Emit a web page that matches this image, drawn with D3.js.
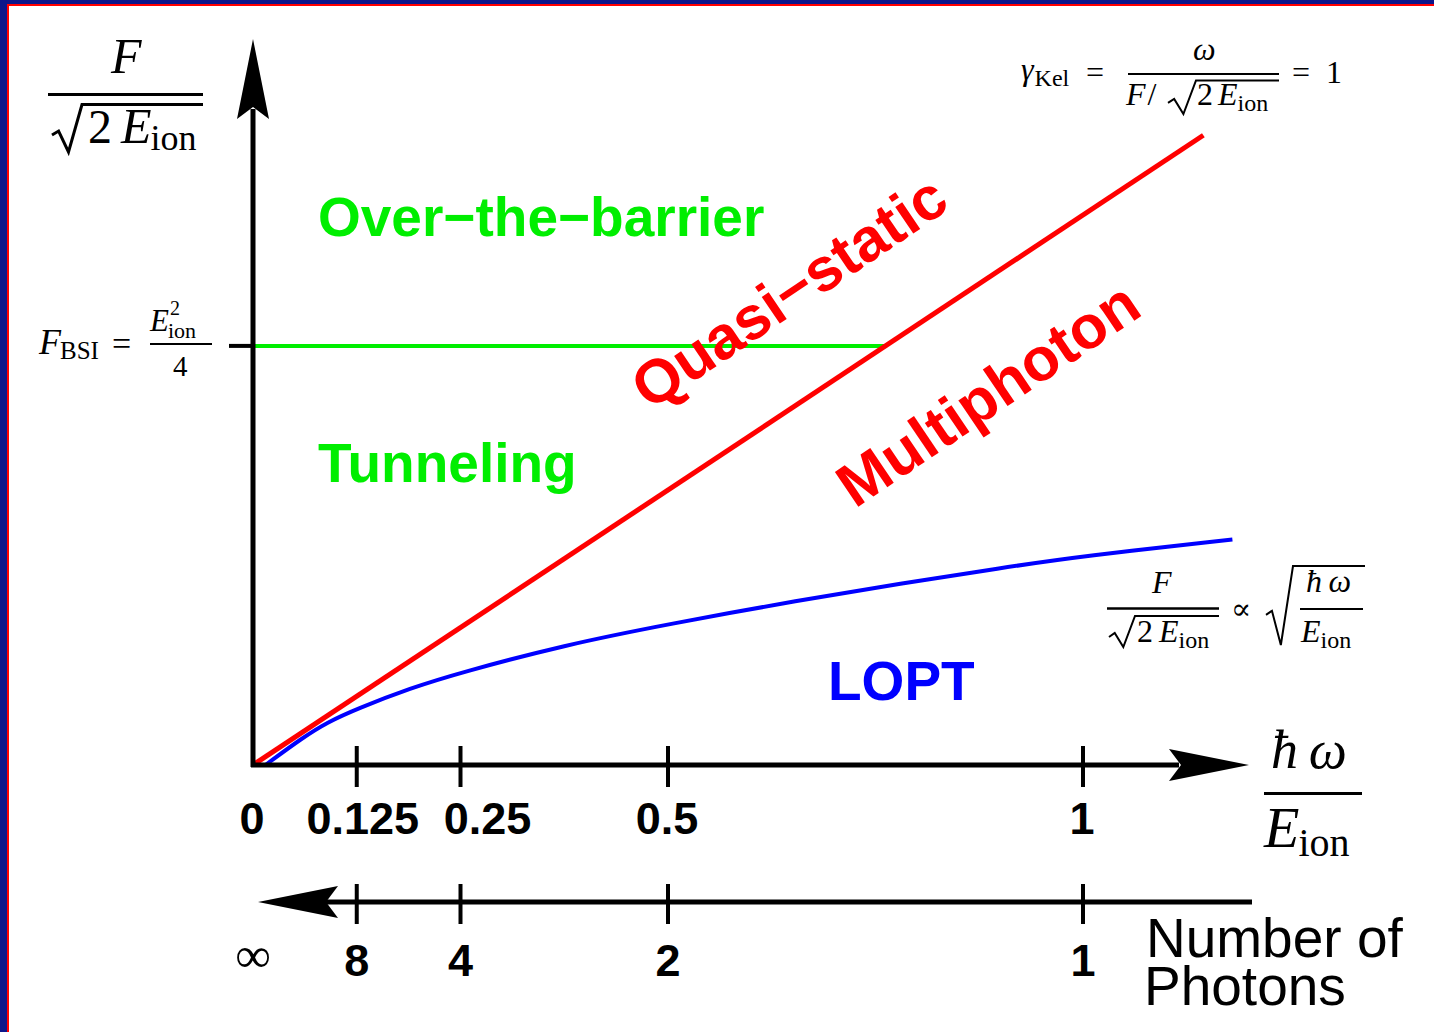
<!DOCTYPE html>
<html>
<head>
<meta charset="utf-8">
<script src="https://cdn.jsdelivr.net/npm/d3@7"></script>
<style>
  body { margin: 0; background: #fff; }
  svg { display: block; }
</style>
</head>
<body>
<svg id="chart" width="1434" height="1032"></svg>
<script>
// ---- data (photon energy in units of E_ion, field in units of sqrt(2 E_ion)) ----
var xTicks = [0.125, 0.25, 0.5, 1];
var xTickLabels = ["0", "0.125", "0.25", "0.5", "1"];
var xLabelValues = [0, 0.125, 0.25, 0.5, 1];
var photonCounts = [8, 4, 2, 1];
var photonLabels = ["8", "4", "2", "1"];
var keldyshX = [0, 1.145];          // gamma_Kel = 1
var keldyshY = [0, 1.145];
var bsiLevel = 0.762;               // F_BSI
var loptX = [0.015, 0.06, 0.09, 0.125, 0.19, 0.25, 0.375, 0.5, 0.66, 0.78, 0.9, 1.0, 1.18];
var loptY = [0, 0.05, 0.078, 0.102, 0.14, 0.168, 0.218, 0.256, 0.3, 0.33, 0.358, 0.38, 0.41];

var svg = d3.select("#chart");
var serif = "'Liberation Serif', 'DejaVu Serif', serif";
var sans = "'Liberation Sans', Arial, sans-serif";

// frame (left + top)
svg.append("rect").attr("x", 0).attr("y", 0).attr("width", 1434).attr("height", 1032).attr("fill", "#fff");
svg.append("rect").attr("x", 0).attr("y", 0).attr("width", 1434).attr("height", 4).attr("fill", "#0c168a");
svg.append("rect").attr("x", 0).attr("y", 4).attr("width", 1434).attr("height", 2).attr("fill", "#ff0000");
svg.append("rect").attr("x", 0).attr("y", 0).attr("width", 7).attr("height", 1032).attr("fill", "#0c168a");
svg.append("rect").attr("x", 7).attr("y", 4).attr("width", 2).attr("height", 1028).attr("fill", "#ff0000");

// scales
var x = d3.scaleLinear().domain([0, 1]).range([253, 1083]);
var y = d3.scaleLinear().domain([0, 1]).range([765, 215]);
var xMax = 1.2, yMax = 1.32;
var photonAxisY = 902;

function arrow(tipX, tipY, dir) {
    // dir: "up", "right", "left"
    var L = 80, W = 16, N = 68, pts;
    if (dir == "up") pts = [[tipX, tipY], [tipX - W, tipY + L], [tipX, tipY + N], [tipX + W, tipY + L]];
    if (dir == "right") pts = [[tipX, tipY], [tipX - L, tipY - W], [tipX - N, tipY], [tipX - L, tipY + W]];
    if (dir == "left") pts = [[tipX, tipY], [tipX + L, tipY - W], [tipX + N, tipY], [tipX + L, tipY + W]];
    svg.append("path").attr("d", "M" + pts.join("L") + "Z").attr("fill", "#000");
}

// ------ regions / curves ------
svg.append("line")
    .attr("x1", x(0)).attr("x2", x(bsiLevel))
    .attr("y1", y(bsiLevel)).attr("y2", y(bsiLevel))
    .attr("stroke", "#00ee00").attr("stroke-width", 4);

var loptLine = d3.line()
    .x(function(d, i) { return x(loptX[i]); })
    .y(function(d, i) { return y(loptY[i]); })
    .curve(d3.curveBasis);
svg.append("path").datum(loptX)
    .attr("d", loptLine)
    .attr("fill", "none").attr("stroke", "#0000ff").attr("stroke-width", 4);

svg.append("line")
    .attr("x1", x(keldyshX[0])).attr("y1", y(keldyshY[0]))
    .attr("x2", x(keldyshX[1])).attr("y2", y(keldyshY[1]))
    .attr("stroke", "#ff0000").attr("stroke-width", 5);

// ------ axes ------
// Y axis
svg.append("line").attr("x1", x(0)).attr("x2", x(0)).attr("y1", y(0) + 2).attr("y2", y(yMax) + 70)
    .attr("stroke", "#000").attr("stroke-width", 5);
arrow(x(0), y(yMax), "up");
svg.append("line").attr("x1", x(0) - 24).attr("x2", x(0)).attr("y1", y(bsiLevel)).attr("y2", y(bsiLevel))
    .attr("stroke", "#000").attr("stroke-width", 4);

// X axis
svg.append("line").attr("x1", x(0) - 2).attr("x2", x(xMax) - 70).attr("y1", y(0)).attr("y2", y(0))
    .attr("stroke", "#000").attr("stroke-width", 5);
arrow(x(xMax), y(0), "right");
svg.selectAll(".xtick").data(xTicks).enter().append("line")
    .attr("x1", d => x(d)).attr("x2", d => x(d))
    .attr("y1", y(0) - 19).attr("y2", y(0) + 22)
    .attr("stroke", "#000").attr("stroke-width", 4);

// nudge the crowded labels a bit to the right
var labelShift = { "0.125": 7, "0.25": 28 };
svg.selectAll(".xlab").data(xLabelValues).enter().append("text")
    .attr("x", (d, i) => x(d) + (labelShift[xTickLabels[i]] || 0) - 1)
    .attr("y", 834)
    .attr("text-anchor", "middle")
    .attr("font-family", sans).attr("font-weight", "bold").attr("font-size", 45)
    .text((d, i) => xTickLabels[i]);

// photon number axis
svg.append("line").attr("x1", x(xMax) + 3).attr("x2", x(0) + 70).attr("y1", photonAxisY).attr("y2", photonAxisY)
    .attr("stroke", "#000").attr("stroke-width", 5);
arrow(x(0) + 5, photonAxisY, "left");
svg.selectAll(".ptick").data(photonCounts).enter().append("line")
    .attr("x1", d => x(1 / d)).attr("x2", d => x(1 / d))
    .attr("y1", photonAxisY - 18).attr("y2", photonAxisY + 22)
    .attr("stroke", "#000").attr("stroke-width", 4);
svg.selectAll(".plab").data(photonCounts).enter().append("text")
    .attr("x", d => x(1 / d))
    .attr("y", 976)
    .attr("text-anchor", "middle")
    .attr("font-family", sans).attr("font-weight", "bold").attr("font-size", 45)
    .text((d, i) => photonLabels[i]);
svg.append("text").attr("x", x(0)).attr("y", 972).attr("text-anchor", "middle")
    .attr("font-family", serif).attr("font-size", 50).text("∞");

var photonTitle = svg.append("text").attr("font-family", sans).attr("font-size", 55);
photonTitle.append("tspan").attr("x", 1146).attr("y", 957).text("Number of");
photonTitle.append("tspan").attr("x", 1144).attr("y", 1005).text("Photons");

// ------ region names ------
function regionLabel(tx, ty, str, color, angle, size) {
    var t = svg.append("text")
        .attr("font-family", sans).attr("font-weight", "bold").attr("font-size", size || 55)
        .attr("fill", color).text(str);
    if (angle) {
        t.attr("text-anchor", "middle").attr("dominant-baseline", "central")
         .attr("transform", "translate(" + tx + "," + ty + ") rotate(" + angle + ")");
    } else {
        t.attr("x", tx).attr("y", ty);
    }
}
regionLabel(318, 236, "Over\u2212the\u2212barrier", "#00ee00");
regionLabel(318, 482, "Tunneling", "#00ee00");
regionLabel(828, 700, "LOPT", "#0000ff");
regionLabel(789, 292, "Quasi\u2212static", "#ff0000", -34, 61);
regionLabel(988, 394, "Multiphoton", "#ff0000", -34, 61);

// ------ math annotations ------
// run of glyph pieces laid out left to right
function run(x0, y0, parts) {
    var cx = x0;
    parts.forEach(function(p) {
        var el = svg.append("text")
            .attr("x", cx + (p.dx || 0)).attr("y", y0 + (p.dy || 0))
            .attr("font-family", serif).attr("font-size", p.size)
            .attr("font-style", p.it ? "italic" : "normal")
            .text(p.s);
        if (!p.stay) cx += (p.dx || 0) + el.node().getComputedTextLength();
    });
    return cx;
}
function bar(x1, x2, yy, w) {
    svg.append("line").attr("x1", x1).attr("x2", x2).attr("y1", yy).attr("y2", yy)
        .attr("stroke", "#000").attr("stroke-width", w);
}
function radical(x0, kx, yTop, yBot, x2, w) {
    var ym = yBot - (yBot - yTop) * 0.42;
    var p = "M" + x0 + "," + (ym + 3) + "L" + (x0 + (kx - x0) * 0.22) + "," + (ym - 1) +
        "L" + (x0 + (kx - x0) * 0.55) + "," + yBot + "L" + kx + "," + yTop + "L" + x2 + "," + yTop;
    svg.append("path").attr("d", p).attr("fill", "none").attr("stroke", "#000")
        .attr("stroke-width", w).attr("stroke-linejoin", "miter");
}

// y axis label F / sqrt(2 E_ion)
run(111, 73, [{ s: "F", size: 50, it: true }]);
bar(48, 203, 94.5, 3);
radical(52, 82, 104.5, 152, 203, 3);
run(88, 143, [{ s: "2", size: 48 }, { s: "E", size: 50, it: true, dx: 9 }, { s: "ion", size: 36, dy: 7, dx: -1 }]);

// x axis label hbar omega / E_ion
run(1271, 768, [{ s: "\u0127\u2009\u03c9", size: 54, it: true }]);
bar(1264, 1362, 793.5, 3);
run(1264, 847, [{ s: "E", size: 58, it: true }, { s: "ion", size: 40, dy: 9, dx: -1 }]);

// gamma_Kel = omega / (F / sqrt(2 E_ion)) = 1
run(1021, 80, [{ s: "\u03b3", size: 32, it: true }, { s: "Kel", size: 24, dy: 6, dx: 1 }]);
run(1086, 83, [{ s: "=", size: 32 }]);
run(1193, 60, [{ s: "\u03c9", size: 32, it: true }]);
bar(1128, 1279, 74, 2);
run(1126, 105, [{ s: "F", size: 32, it: true }, { s: "/", size: 32, dx: 2 }]);
radical(1168, 1196, 80.5, 114, 1279, 2);
run(1197, 105, [{ s: "2", size: 32 }, { s: "E", size: 32, it: true, dx: 5 }, { s: "ion", size: 24, dy: 6 }]);
run(1292, 83, [{ s: "=", size: 32 }, { s: "1", size: 32, dx: 16 }]);

// F_BSI = E_ion^2 / 4
run(39, 354, [{ s: "F", size: 36, it: true }, { s: "BSI", size: 25, dy: 5, dx: -1 }]);
run(112, 355, [{ s: "=", size: 34 }]);
run(150, 331, [{ s: "E", size: 31, it: true }, { s: "2", size: 20, dy: -16, dx: 1, stay: true }, { s: "ion", size: 22, dy: 7, dx: -1 }]);
bar(150, 212, 344, 2);
run(173, 376, [{ s: "4", size: 29 }]);

// F / sqrt(2 E_ion) ~ sqrt(hbar omega / E_ion)
run(1152, 593, [{ s: "F", size: 32, it: true }]);
bar(1107, 1219, 608.5, 2.5);
radical(1109, 1135, 616, 647, 1219, 2);
run(1137, 642, [{ s: "2", size: 32 }, { s: "E", size: 32, it: true, dx: 6 }, { s: "ion", size: 24, dy: 6 }]);
run(1231, 619, [{ s: "\u221d", size: 30 }]);
radical(1266, 1293, 566, 645, 1365, 2);
run(1306, 592, [{ s: "\u0127\u2009\u03c9", size: 32, it: true }]);
bar(1300, 1363, 609, 2);
run(1301, 642, [{ s: "E", size: 32, it: true }, { s: "ion", size: 24, dy: 6 }]);
</script>
</body>
</html>
